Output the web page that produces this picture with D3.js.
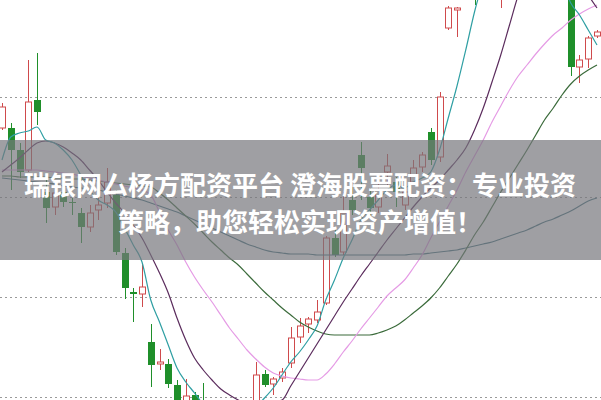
<!DOCTYPE html>
<html><head><meta charset="utf-8">
<script src="https://cdn.jsdelivr.net/npm/d3@7"></script>
<style>html,body{margin:0;padding:0;background:#fff;overflow:hidden}</style>
</head><body>
<svg id="c" width="601" height="400"></svg>
<script>
// ---- data (price units) ----
const opens = [12.69,12.69,12.47,12.27,12.97,12.05,11.90,12.05,11.95,11.84, 11.70,11.87,11.94,12.02,11.44,11.05,11.03,10.55,10.33,10.33, 10.12,9.85,10.02,9.92,9.70,9.56,9.60,9.52,9.70,9.92, 10.23,10.13,10.19,10.34,10.60,10.73,10.77,10.94,11.59,11.45, 11.97,12.42,12.00,11.90,12.25,12.15,11.92,12.15,12.30,12.65, 12.40,13.69,13.87,14.05,14.30,14.15,14.50,14.05,14.45,14.80, 15.05,14.95,14.70,14.85,14.55,14.30,13.30,13.38,13.61];
const highs = [12.94,12.74,12.54,13.37,13.44,12.20,12.07,12.14,11.99,11.89, 11.92,12.02,12.29,12.07,11.49,11.09,11.34,10.73,10.48,10.38, 10.17,10.18,10.05,10.14,9.78,9.68,9.70,9.75,9.90,10.35, 10.27,10.20,10.29,10.70,10.79,10.80,10.97,11.61,11.67,12.05, 12.10,12.55,12.09,12.15,12.43,12.20,12.12,12.37,12.45,12.69, 13.05,13.91,13.90,14.45,14.50,14.60,14.85,14.50,14.90,15.20, 15.30,15.10,14.95,15.00,14.70,14.40,13.42,13.61,13.67];
const lows = [12.67,12.07,12.19,12.25,12.72,11.74,11.82,11.90,11.82,11.54, 11.65,11.77,11.89,11.42,10.98,10.75,10.90,10.10,10.27,10.09, 9.77,9.77,9.72,9.65,9.50,9.42,9.45,9.48,9.66,9.87, 10.10,10.02,10.15,10.29,10.54,10.64,10.74,10.92,11.40,11.42, 11.82,11.97,11.80,11.84,12.12,11.90,11.87,12.12,12.25,12.32, 12.35,13.67,13.60,14.00,13.92,14.05,14.30,13.89,14.35,14.70, 14.85,14.60,14.50,14.40,14.20,13.21,13.14,13.29,13.59];
const closes = [12.90,12.47,12.25,12.95,12.85,11.89,12.04,11.95,11.94,11.70, 11.84,11.92,12.15,11.45,11.09,11.03,11.10,10.32,10.35,10.13, 9.87,10.01,9.82,9.72,9.55,9.62,9.50,9.70,9.85,10.22, 10.12,10.18,10.25,10.59,10.71,10.78,10.85,11.59,11.42,11.84, 11.87,12.29,11.89,12.07,12.31,12.05,12.05,12.29,12.42,12.37, 13.00,13.89,13.89,14.35,14.10,14.50,14.70,14.40,14.80,15.05, 14.95,14.70,14.85,14.35,14.20,13.30,13.37,13.59,13.65];

const ma5 = [12.37,12.60,12.64,12.66,12.70,12.57,12.54,12.47,12.37,12.22, 12.07,11.97,11.92,11.85,11.69,11.52,11.35,10.97,10.75,10.52, 10.29,10.15,10.04,9.92,9.77,9.67,9.57,9.59,9.72,9.89, 9.99,10.09,10.22,10.35,10.45,10.57,10.71,10.97,11.17,11.39, 11.57,11.77,11.87,11.97,12.07,12.12,12.09,12.15,12.19,12.25, 12.47,12.79,13.11,13.47,13.85,14.17,14.47,14.67,14.77,14.87, 14.87,14.77,14.57,14.37,14.17,13.94,13.82,13.67,13.52];
const ma10 = [12.25,12.32,12.39,12.47,12.54,12.56,12.54,12.50,12.44,12.37, 12.27,12.17,12.05,11.94,11.84,11.72,11.59,11.42,11.24,11.04, 10.79,10.57,10.39,10.27,10.17,10.08,10.02,9.97,9.93,9.92, 9.93,9.95,9.97,10.11,10.25,10.39,10.53,10.67,10.81,10.95, 11.08,11.21,11.33,11.45,11.57,11.68,11.79,11.90,12.00,12.09, 12.17,12.27,12.37,12.49,12.67,12.89,13.15,13.42,13.72,14.02, 14.27,14.42,14.47,14.47,14.42,14.32,14.17,14.02,13.89];
const ma20 = [12.27,12.27,12.27,12.27,12.27,12.26,12.25,12.24,12.23,12.21, 12.19,12.17,12.15,12.13,12.11,12.09,12.07,12.02,11.85,11.67, 11.52,11.35,11.20,11.07,10.95,10.82,10.69,10.58,10.47,10.38, 10.30,10.24,10.21,10.19,10.18,10.17,10.17,10.23,10.33,10.45, 10.56,10.68,10.79,10.90,11.01,11.09,11.17,11.29,11.42,11.59, 11.75,11.91,12.07,12.25,12.41,12.57,12.75,12.91,13.07,13.21, 13.32,13.43,13.53,13.62,13.69,13.77,13.83,13.88,13.92];
const ma30 = [12.21,12.21,12.20,12.20,12.20,12.20,12.19,12.19,12.18,12.18, 12.17,12.16,12.15,12.14,12.13,12.12,12.11,12.10,12.04,11.97, 11.89,11.81,11.73,11.64,11.55,11.47,11.39,11.32,11.23,11.14, 11.05,10.97,10.89,10.82,10.75,10.70,10.66,10.63,10.62,10.62, 10.62,10.62,10.62,10.64,10.67,10.71,10.77,10.84,10.91,10.99, 11.09,11.21,11.33,11.47,11.62,11.75,11.90,12.05,12.19,12.33, 12.47,12.62,12.77,12.89,13.02,13.13,13.21,13.27,13.32];
const ma60 = [12.19,12.18,12.17,12.16,12.15,12.14,12.13,12.11,12.10,12.09, 12.08,12.07,12.05,12.03,12.01,11.99,11.97,11.94,11.91,11.88, 11.85,11.81,11.77,11.73,11.69,11.65,11.61,11.57,11.53,11.50, 11.47,11.45,11.44,11.43,11.43,11.43,11.42,11.42,11.42,11.42, 11.42,11.42,11.42,11.42,11.42,11.42,11.42,11.43,11.43,11.44, 11.45,11.46,11.47,11.49,11.51,11.53,11.55,11.58,11.61,11.64, 11.67,11.71,11.75,11.78,11.82,11.86,11.91,11.96,11.99];

const gridPrices = [13, 12, 11, 10];
const titleLines = ["瑞银网厶杨方配资平台 澄海股票配资：专业投资", "策略，助您轻松实现资产增值！"];

// ---- drawing ----
const W = 601, H = 400;
const svg = d3.select("#c");
const idx = d3.range(opens.length);
const x = d3.scaleLinear().domain([0, opens.length - 1]).range([2, 597]);
const y = d3.scaleLinear().domain([9.97, 13.97]).range([H, 0]);

svg.append("defs").append("clipPath").attr("id", "clip")
  .append("rect").attr("x", 0).attr("y", 0).attr("width", W).attr("height", H);

const g = svg.append("g").attr("clip-path", "url(#clip)");

// grid
const yAxis = d3.axisLeft(y).tickValues(gridPrices).tickSize(-W).tickFormat("");
const ga = g.append("g").attr("transform", "translate(0,0)").call(yAxis);
ga.select(".domain").remove();
ga.selectAll("line").attr("stroke", "#9a9a9a").attr("stroke-width", 1)
  .attr("stroke-dasharray", "2,3").attr("shape-rendering", "crispEdges");

// candles
const RED = "#cf4a4c", GREEN = "#1f8f2a";
const bw = 6;
const cg = g.append("g");
idx.forEach(i => {
  const up = closes[i] >= opens[i];
  const col = up ? RED : GREEN;
  const cx = Math.round(x(i)) + 0.5;
  const top = y(Math.max(opens[i], closes[i]));
  const bot = y(Math.min(opens[i], closes[i]));
  cg.append("line").attr("x1", cx).attr("x2", cx)
    .attr("y1", y(highs[i])).attr("y2", top).attr("stroke", col).attr("stroke-width", 1);
  cg.append("line").attr("x1", cx).attr("x2", cx)
    .attr("y1", bot).attr("y2", y(lows[i])).attr("stroke", col).attr("stroke-width", 1);
  if (up) {
    cg.append("rect").attr("x", cx - bw / 2).attr("y", top)
      .attr("width", bw).attr("height", Math.max(1, bot - top))
      .attr("fill", "#fff").attr("stroke", col).attr("stroke-width", 1);
  } else {
    cg.append("rect").attr("x", cx - bw / 2 - 0.5).attr("y", top)
      .attr("width", bw + 1).attr("height", Math.max(1, bot - top))
      .attr("fill", col);
  }
});

// moving averages
const maSeries = [
  {v: ma60, c: "#3d6f7c"},
  {v: ma30, c: "#3b6b3b"},
  {v: ma20, c: "#e59be5"},
  {v: ma10, c: "#5b2c5d"},
  {v: ma5,  c: "#2f9fa3"}
];
const line = d3.line().x((d, i) => x(i)).y(d => y(d)).curve(d3.curveMonotoneX);
maSeries.forEach(s => {
  g.append("path").datum(s.v).attr("d", line)
    .attr("fill", "none").attr("stroke", s.c).attr("stroke-width", 1.2);
});

// banner
svg.append("rect").attr("x", 0).attr("y", 140).attr("width", W).attr("height", 120)
  .attr("fill", "rgb(118,118,124)").attr("fill-opacity", 0.7);
svg.selectAll("text.t").data(titleLines).enter().append("text")
  .attr("class", "t")
  .attr("x", 300).attr("y", (d, i) => 183 + i * 37)
  .attr("text-anchor", "middle").attr("dominant-baseline", "central")
  .attr("font-family", "'Noto Sans CJK SC','Noto Sans',sans-serif")
  .attr("font-weight", 700).attr("font-size", 26).attr("fill", "#fff")
  .text(d => d);
</script>
</body></html>
